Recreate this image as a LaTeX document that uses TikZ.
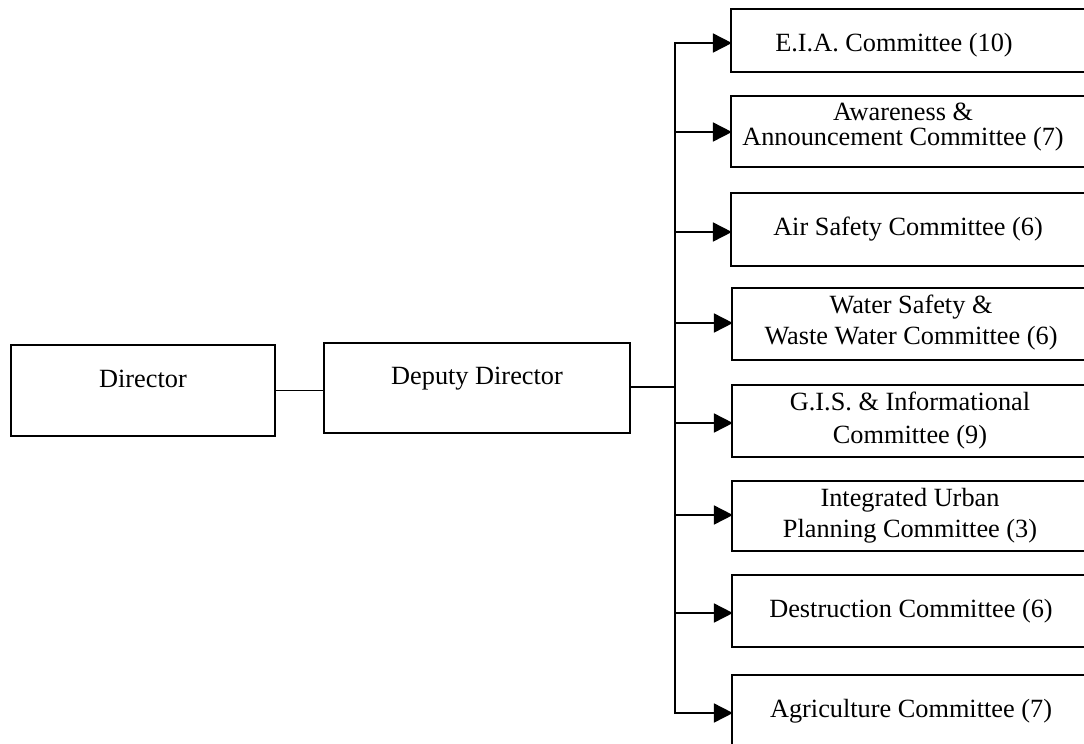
\documentclass[tikz,border=0pt]{standalone}
\usepackage{fontspec}
\setmainfont{Liberation Serif}
\usetikzlibrary{arrows.meta}
\tikzset{
  box/.style={draw=black, line width=1.8pt, rectangle, inner sep=0pt, outer sep=0pt, anchor=north west},
  lbl/.style={anchor=base, inner sep=0pt, font=\fontsize{26.3}{31}\selectfont},
  lbltight/.style={anchor=base, inner sep=0pt, font=\fontsize{26.3}{25}\selectfont},
  con/.style={draw=black, line width=1.8pt},
  arr/.style={con, -{Triangle[length=19pt,width=19pt]}, shorten >=-0.9pt}
}
\begin{document}
\begin{tikzpicture}[x=1pt,y=-1pt]
\useasboundingbox (0,0) rectangle (1084,744);
\clip (0,0) rectangle (1084,744);
% left boxes
\node[box, minimum width=264pt, minimum height=91pt] (dir) at (11,345) {};
\node[box, minimum width=306pt, minimum height=90pt] (dep) at (324,343) {};
% committee boxes
\node[box, minimum width=364pt, minimum height=63pt] (c1) at (731,9) {};
\node[box, minimum width=364pt, minimum height=71pt] (c2) at (731,96) {};
\node[box, minimum width=364pt, minimum height=73pt] (c3) at (731,193) {};
\node[box, minimum width=364pt, minimum height=72pt] (c4) at (732,288) {};
\node[box, minimum width=364pt, minimum height=72pt] (c5) at (732,385) {};
\node[box, minimum width=364pt, minimum height=70pt] (c6) at (732,481) {};
\node[box, minimum width=364pt, minimum height=72pt] (c7) at (732,575) {};
\node[box, minimum width=364pt, minimum height=90pt] (c8) at (732,675) {};
% texts
\node[lbl] (tdir) at (143,387) {Director};
\node[lbl] (tdep) at (477,384) {Deputy Director};
\node[lbl] (t1) at (894,51) {E.I.A. Committee (10)};
\node[lbltight] (t2) at (903,120) {\begin{tabular}[t]{@{}c@{}}Awareness \&\\Announcement Committee (7)\end{tabular}};
\node[lbl] (t3) at (908,235) {Air Safety Committee (6)};
\node[lbl] (t4) at (911,313) {\begin{tabular}[t]{@{}c@{}}Water Safety \&\\Waste Water Committee (6)\end{tabular}};
\node[lbl, font=\fontsize{26.3}{33}\selectfont] (t5) at (910,410) {\begin{tabular}[t]{@{}c@{}}G.I.S. \& Informational\\Committee (9)\end{tabular}};
\node[lbl] (t6) at (910,506) {\begin{tabular}[t]{@{}c@{}}Integrated Urban\\Planning Committee (3)\end{tabular}};
\node[lbl] (t7) at (911,617) {Destruction Committee (6)};
\node[lbl] (t8) at (911,717) {Agriculture Committee (7)};
% connectors
\coordinate (j) at (675,387);
\coordinate (b1) at (675,43);
\coordinate (b2) at (675,132);
\coordinate (b3) at (675,232);
\coordinate (b4) at (675,323);
\coordinate (b5) at (675,423);
\coordinate (b6) at (675,515);
\coordinate (b7) at (675,613);
\coordinate (b8) at (675,713);
\draw[con] (dir.east) -- (dir.east -| dep.west);
\draw[con] (dep.east |- j) -- (j);
\draw[con, line cap=rect] (b1) -- (b8);
\draw[arr] (b1) -- (b1 -| c1.west);
\draw[arr] (b2) -- (b2 -| c2.west);
\draw[arr] (b3) -- (b3 -| c3.west);
\draw[arr] (b4) -- (b4 -| c4.west);
\draw[arr] (b5) -- (b5 -| c5.west);
\draw[arr] (b6) -- (b6 -| c6.west);
\draw[arr] (b7) -- (b7 -| c7.west);
\draw[arr] (b8) -- (b8 -| c8.west);
\end{tikzpicture}
\end{document}
